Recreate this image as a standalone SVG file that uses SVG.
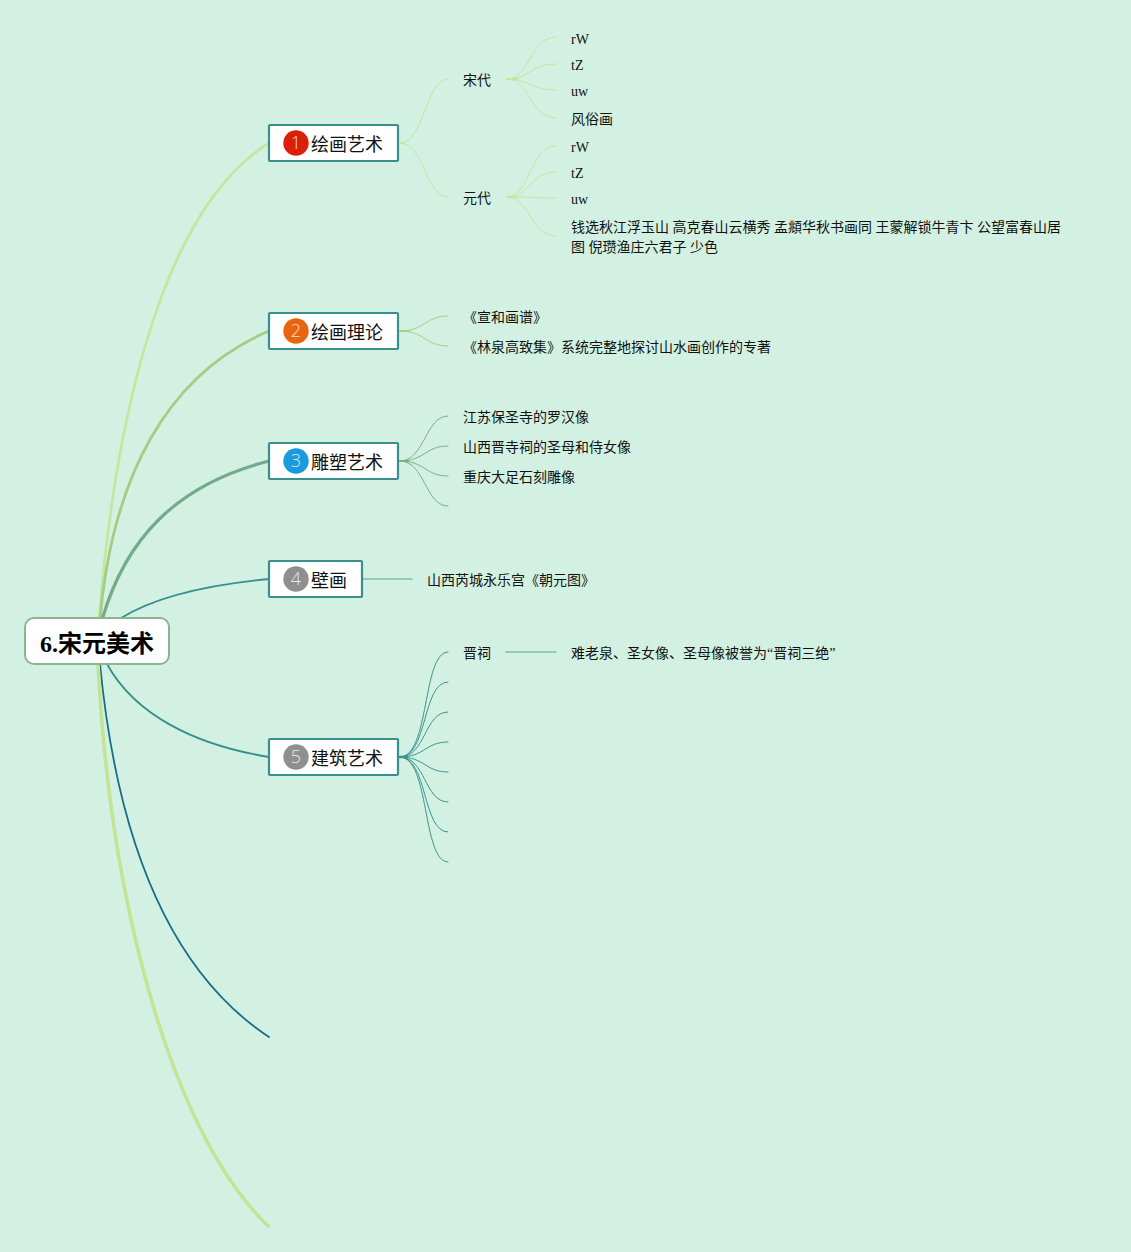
<svg xmlns="http://www.w3.org/2000/svg" width="1131" height="1252" viewBox="0 0 1131 1252">
<style>
text{font-family:"Liberation Serif","Noto Sans CJK SC",serif;fill:#111}
.t{font-size:14px}
.n{font-size:18px}
.r{font-size:24px;font-weight:700;fill:#000}
.box{fill:#fff;stroke:#3a8f8c;stroke-width:2.2}
.num{font-family:"Open Sans",sans-serif;font-weight:300;font-size:18px;fill:#fff;fill-opacity:.82;text-anchor:middle}
#connectors path{fill:none;stroke-linecap:round}
.a{stroke:#c5e59f;stroke-width:1}
.b{stroke:#a5d088;stroke-width:1}
.c{stroke:#7cad8c;stroke-width:1}
.d{stroke:#7fbcb2;stroke-width:1.5}
.e{stroke:#3a9490;stroke-width:1}
</style>
<rect width="1131" height="1252" fill="#d3f1e2"/>
<g id="connectors">
<path d="M99 620C112 455 152 215 269 143" stroke="#c6e6a0" stroke-width="2.8"/>
<path d="M100 620C112 480 165 375 269 331" stroke="#a3cd82" stroke-width="2.8"/>
<path d="M102 620C125 540 175 485 269 461" stroke="#74a98a" stroke-width="3.2"/>
<path d="M121 618C155 597 205 585 269 579" stroke="#35908c" stroke-width="1.8"/>
<path d="M107 664C135 715 195 745 269 757" stroke="#35908c" stroke-width="1.8"/>
<path d="M100 664C115 820 160 965 269 1037" stroke="#176f85" stroke-width="1.8"/>
<path d="M98 664C110 900 170 1130 268 1226" stroke="#c3e497" stroke-width="3.6"/>
<path class="a" d="M400 143C425 143 425 79 448 79"/>
<path class="a" d="M400 143C425 143 425 197 448 197"/>
<path class="a" d="M507 79C530 79 530 37 556 37"/>
<path class="a" d="M507 79C530 79 530 64 556 64"/>
<path class="a" d="M507 79C530 79 530 90 556 90"/>
<path class="a" d="M507 79C530 79 530 118 556 118"/>
<path class="a" d="M507 197C530 197 530 146 556 146"/>
<path class="a" d="M507 197C530 197 530 172 556 172"/>
<path class="a" d="M507 197C530 197 530 198 556 198"/>
<path class="a" d="M507 197C530 197 530 236 556 236"/>
<path class="a" d="M507 79H518M507 197H518" style="stroke-width:1.5"/>
<path class="b" d="M400 331C425 331 425 316 448 316"/>
<path class="b" d="M400 331C425 331 425 346 448 346"/>
<path class="b" d="M400 331H410" style="stroke-width:1.5"/>
<path class="c" d="M400 461C425 461 425 416 448 416"/>
<path class="c" d="M400 461C425 461 425 446 448 446"/>
<path class="c" d="M400 461C425 461 425 476 448 476"/>
<path class="c" d="M400 461C425 461 425 506 448 506"/>
<path class="c" d="M400 461H408" style="stroke-width:2"/>
<path class="d" d="M363 579H412"/>
<path class="e" d="M400 757C430 757 422 652 448 652"/>
<path class="e" d="M400 757C428 757 422 682 448 682"/>
<path class="e" d="M400 757C426 757 424 712 448 712"/>
<path class="e" d="M400 757C425 757 425 742 448 742"/>
<path class="e" d="M400 757C425 757 425 772 448 772"/>
<path class="e" d="M400 757C426 757 424 802 448 802"/>
<path class="e" d="M400 757C428 757 422 832 448 832"/>
<path class="e" d="M400 757C430 757 422 862 448 862"/>
<path class="e" d="M400 757H406" style="stroke-width:2.5"/>
<path class="d" d="M506 652H556"/>
</g>
<g id="root"><rect x="25" y="618" width="144" height="46" rx="9" fill="#fff" stroke="#8db391" stroke-width="2"/><text class="r" x="40" y="652">6.宋元美术</text></g>
<g id="node1"><rect class="box" x="269" y="125" width="129" height="36" rx="1"/><circle cx="296" cy="143" r="12.7" fill="#dc1f0a"/><text class="num" x="296" y="149">1</text><text class="n" x="311" y="151">绘画艺术</text></g>
<g id="node2"><rect class="box" x="269" y="313" width="129" height="36" rx="1"/><circle cx="296" cy="331" r="12.7" fill="#e8650f"/><text class="num" x="296" y="337">2</text><text class="n" x="311" y="339">绘画理论</text></g>
<g id="node3"><rect class="box" x="269" y="443" width="129" height="36" rx="1"/><circle cx="296" cy="461" r="12.7" fill="#1a9bdc"/><text class="num" x="296" y="467">3</text><text class="n" x="311" y="469">雕塑艺术</text></g>
<g id="node4"><rect class="box" x="269" y="561" width="93" height="36" rx="1"/><circle cx="296" cy="579" r="12.7" fill="#8f8f8f"/><text class="num" x="296" y="585">4</text><text class="n" x="311" y="587">壁画</text></g>
<g id="node5"><rect class="box" x="269" y="739" width="129" height="36" rx="1"/><circle cx="296" cy="757" r="12.7" fill="#8f8f8f"/><text class="num" x="296" y="763">5</text><text class="n" x="311" y="765">建筑艺术</text></g>
<g id="labels">
<text class="t" x="463" y="85">宋代</text>
<text class="t" x="463" y="203">元代</text>
<text class="t" x="571" y="44">rW</text>
<text class="t" x="571" y="70">tZ</text>
<text class="t" x="571" y="96">uw</text>
<text class="t" x="571" y="124">风俗画</text>
<text class="t" x="571" y="152">rW</text>
<text class="t" x="571" y="178">tZ</text>
<text class="t" x="571" y="204">uw</text>
<text class="t" x="571" y="232">钱选秋江浮玉山 高克春山云横秀 孟頫华秋书画同 王蒙解锁牛青卞 公望富春山居</text>
<text class="t" x="571" y="252">图 倪瓒渔庄六君子 少色</text>
<text class="t" x="463" y="322">《宣和画谱》</text>
<text class="t" x="463" y="352">《林泉高致集》系统完整地探讨山水画创作的专著</text>
<text class="t" x="463" y="422">江苏保圣寺的罗汉像</text>
<text class="t" x="463" y="452">山西晋寺祠的圣母和侍女像</text>
<text class="t" x="463" y="482">重庆大足石刻雕像</text>
<text class="t" x="427" y="585">山西芮城永乐宫《朝元图》</text>
<text class="t" x="463" y="658">晋祠</text>
<text class="t" x="571" y="658">难老泉、圣女像、圣母像被誉为“晋祠三绝”</text>
</g>
</svg>
